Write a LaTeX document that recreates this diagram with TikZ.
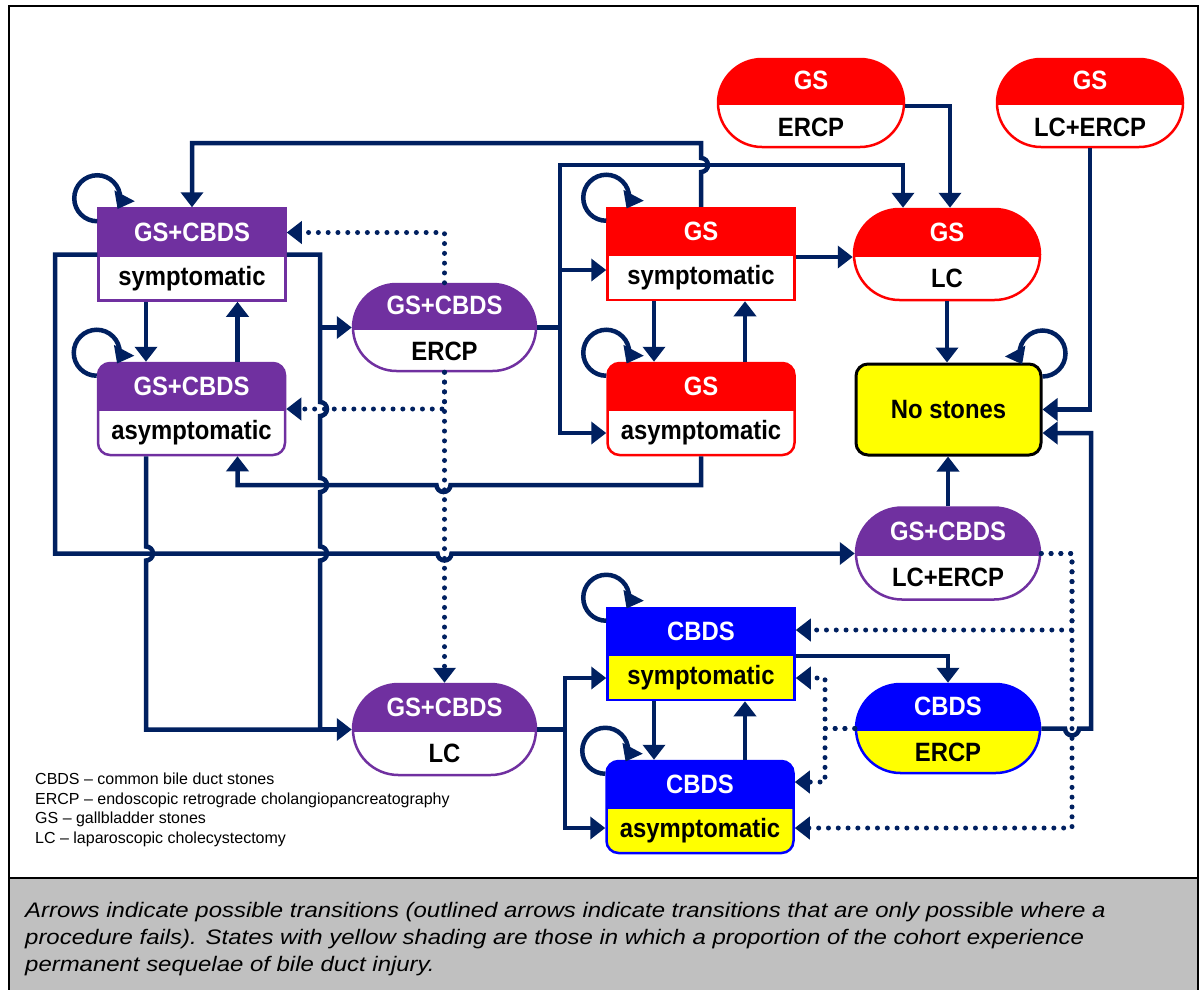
\documentclass[tikz,border=0pt]{standalone}
\usepackage{fontspec}
\setmainfont{Liberation Sans}
\newfontfamily\nodefont[FakeStretch=0.9]{Liberation Sans}
\newfontfamily\capfont[FakeStretch=1.14]{Liberation Sans}
\usetikzlibrary{arrows.meta,shapes.misc}
\definecolor{navyc}{HTML}{002060}
\definecolor{purp}{HTML}{7030A0}
\definecolor{redc}{HTML}{FF0000}
\definecolor{bluec}{HTML}{0000FF}
\definecolor{yel}{HTML}{FFFF00}
\definecolor{capg}{HTML}{C0C0C0}
\tikzset{
  nbase/.style={line width=2.5pt, inner sep=0pt, minimum width=187pt, minimum height=92pt},
  sq/.style={nbase, rectangle},
  rr/.style={nbase, rectangle, rounded corners=12pt},
  st/.style={nbase, rounded rectangle},
  hdr/.style={path picture={\fill[#1, sharp corners] ([xshift=-8pt,yshift=8pt]path picture bounding box.north west) rectangle ([xshift=8pt,yshift=-2pt]path picture bounding box.east);}},
  htxt/.style={text=white, font=\nodefont\bfseries\fontsize{26.5}{28}\selectfont, inner sep=0pt},
  btxt/.style={text=black, font=\nodefont\bfseries\fontsize{26.5}{28}\selectfont, inner sep=0pt},
  legtxt/.style={font=\fontsize{16}{19}\selectfont, inner sep=0pt, anchor=base west},
  captxt/.style={font=\capfont\itshape\fontsize{21}{27}\selectfont, inner sep=0pt, anchor=base west},
  conline/.style={draw=navyc, line width=4.5pt},
  con/.style={conline, -{Triangle[width=22pt,length=15pt]}},
  dotl/.style={draw=navyc, line width=5pt, line cap=round, dash pattern=on 0pt off 9.8pt},
  dotc/.style={dotl, -{Triangle[width=22pt,length=15pt]}},
}
\newcommand{\mkstate}[6]{%
  \node[#2, hdr=#4] (#1) at (#3) {};
  \node[htxt] (#1-h) at ([yshift=22.5pt]#1.center) {#5};
  \node[btxt] (#1-b) at ([yshift=-24pt]#1.center) {#6};
}
\newcommand{\loopL}[1]{\draw[con] ([yshift=-14pt]#1.north west) arc[start angle=90, end angle=388, radius=23];}
\newcommand{\loopR}[1]{\draw[con] ([yshift=-14pt]#1.north east) arc[start angle=90, end angle=-208, radius=23];}
\begin{document}
\begin{tikzpicture}[x=1pt, y=-1pt]
\useasboundingbox (0,0) rectangle (1202,989);
% frame and caption area
\fill[capg] (9,879) rectangle (1198,995);
\draw[line width=2.5pt] (9,6) rectangle (1198,1000);
\draw[line width=2.5pt] (9,878) -- (1198,878);

% states
\mkstate{psym}{sq, draw=purp, fill=white}{192,254.5}{purp}{GS+CBDS}{symptomatic}
\mkstate{pasym}{rr, draw=purp, fill=white}{191.5,409}{purp}{GS+CBDS}{asymptomatic}
\mkstate{pERCP}{st, draw=purp, fill=white, minimum width=183pt, minimum height=87pt}{444.5,327.5}{purp}{GS+CBDS}{ERCP}
\mkstate{gsym}{sq, draw=redc, fill=white}{701,254}{redc}{GS}{symptomatic}
\mkstate{gasym}{rr, draw=redc, fill=white}{701,409}{redc}{GS}{asymptomatic}
\mkstate{gERCP}{st, draw=redc, fill=white, minimum width=186pt, minimum height=88pt}{811,103}{redc}{GS}{ERCP}
\mkstate{gLCERCP}{st, draw=redc, fill=white, minimum width=186pt, minimum height=88pt}{1090,103}{redc}{GS}{LC+ERCP}
\mkstate{gLC}{st, draw=redc, fill=white, minimum width=186pt, minimum height=91pt}{947,254.5}{redc}{GS}{LC}
\mkstate{pLCERCP}{st, draw=purp, fill=white, minimum width=184pt, minimum height=92pt}{948,553.5}{purp}{GS+CBDS}{LC+ERCP}
\mkstate{csym}{sq, draw=bluec, fill=yel}{701,654}{bluec}{CBDS}{symptomatic}
\mkstate{casym}{rr, draw=bluec, fill=yel}{700,807}{bluec}{CBDS}{asymptomatic}
\mkstate{cERCP}{st, draw=bluec, fill=yel, minimum width=184pt, minimum height=89pt}{948,728.5}{bluec}{CBDS}{ERCP}
\mkstate{pLC}{st, draw=purp, fill=white, minimum width=183pt, minimum height=91pt}{444.5,729.5}{purp}{GS+CBDS}{LC}
\node[rr, draw=black, line width=3pt, fill=yel, minimum width=185pt, minimum height=91pt] (nost) at (948.5,409.5) {};
\node[btxt] (nost-t) at (nost.center) {No stones};

% self loops
\loopL{psym}
\loopL{pasym}
\loopL{gsym}
\loopL{gasym}
\loopL{csym}
\loopL{casym}
\loopR{nost}

% GS+CBDS symptomatic <-> asymptomatic
\draw[con] ([xshift=-46pt]psym.south) -- ([xshift=-46pt]psym.south |- pasym.north);
\draw[con] ([xshift=46pt]pasym.north) -- ([xshift=46pt]pasym.north |- psym.south);

% GS symptomatic -> GS+CBDS symptomatic (top route, hop)
\draw[con] (gsym.north) -- (701,172) arc[start angle=90, end angle=-90, radius=7] -- (701,143) -| (psym.north);

% GS+CBDS ERCP fan
\coordinate (jE) at (560,327.5);
\draw[conline] (pERCP.east) -- (jE);
\draw[con] (jE) |- ([yshift=-16pt]gsym.west);
\draw[con] (jE) |- ([yshift=-24pt]gasym.west);
\draw[con] (jE) -- (560,165) -| ([xshift=-44pt]gLC.north);

% GS ERCP -> GS LC
\draw[con] ([yshift=-3pt]gERCP.east) -| ([xshift=3pt]gLC.north);
% GS LC+ERCP -> No stones
\draw[con] (gLCERCP.south) |- (nost.east);
% GS sym -> GS LC
\draw[con] ([yshift=-3pt]gsym.east) -- ([yshift=-3pt]gsym.east -| gLC.west);
% GS LC -> No stones
\draw[con] (gLC.south) -- (gLC.south |- nost.north);
% GS sym <-> asym
\draw[con] ([xshift=-47pt]gsym.south) -- ([xshift=-47pt]gsym.south |- gasym.north);
\draw[con] ([xshift=44pt]gasym.north) -- ([xshift=44pt]gasym.north |- gsym.south);
% GS asym -> GS+CBDS asym
\draw[con] (gasym.south) -- (701,485) -- (450.5,485) arc[start angle=0, end angle=180, radius=7] -| ([xshift=46pt]pasym.south);

% GS+CBDS sym -> GS+CBDS LC+ERCP (left route)
\draw[con] (psym.west) -- (55,254.5) -- (55,553.5) -- (437.5,553.5) arc[start angle=180, end angle=0, radius=7] -- (pLCERCP.west);

% GS+CBDS sym -> ERCP and LC (x=320)
\draw[conline] (psym.east) -- (320,254.5) -- (320,402) arc[start angle=-90, end angle=90, radius=7] -- (320,478) arc[start angle=-90, end angle=90, radius=7] -- (320,546.5) arc[start angle=-90, end angle=90, radius=7] -- (320,729.5);
\draw[con] (320,327.5) -- (pERCP.west);
% GS+CBDS asym -> LC (x=146)
\draw[conline] ([xshift=-45.5pt]pasym.south) -- (146,546.5) arc[start angle=-90, end angle=90, radius=7] -- (146,729.5) -- (320,729.5);
\draw[con] (320,729.5) -- (pLC.west);

% dotted from GS+CBDS ERCP
\draw[dotc] (pERCP.north) |- ([yshift=22pt]psym.east);
\draw[dotc] (pERCP.south) -- (pLC.north);
\draw[dotc] (pERCP.south) |- (pasym.east);

% GS+CBDS LC fan
\coordinate (jC) at (565,729.5);
\draw[conline] (pLC.east) -- (jC);
\draw[con] (jC) |- ([yshift=-24pt]csym.west);
\draw[con] (jC) |- ([yshift=-21pt]casym.west);

% CBDS sym <-> asym
\draw[con] ([xshift=-47pt]csym.south) -- ([xshift=-47pt]csym.south |- casym.north);
\draw[con] ([xshift=45pt]casym.north) -- ([xshift=45pt]casym.north |- csym.south);
% CBDS sym -> CBDS ERCP
\draw[con] ([yshift=-2pt]csym.east) -| (cERCP.north);
% CBDS ERCP -> No stones
\draw[con] (cERCP.east) -- (1065,728.5) arc[start angle=180, end angle=0, radius=7] -- (1091,728.5) -- (1091,433) -- ([yshift=-23.5pt]nost.east);
% GS+CBDS LC+ERCP -> No stones
\draw[con] (pLCERCP.north) -- (pLCERCP.north |- nost.south);

% dotted from GS+CBDS LC+ERCP
\draw[dotc] (pLCERCP.east) -- (1072,553.5) |- ([yshift=-21pt]casym.east);
\draw[dotc] (pLCERCP.east) -- (1072,553.5) |- ([yshift=24pt]csym.east);
% dotted from CBDS ERCP
\draw[dotc] (cERCP.west) -- (825,728.5) |- ([yshift=-24pt]csym.east);
\draw[dotc] (cERCP.west) -- (825,728.5) |- ([yshift=25pt]casym.east);

% legend
\node[legtxt] (leg1) at (35,784) {CBDS – common bile duct stones};
\node[legtxt] (leg2) at (35,804) {ERCP – endoscopic retrograde cholangiopancreatography};
\node[legtxt] (leg3) at (35,823.5) {GS – gallbladder stones};
\node[legtxt] (leg4) at (35,843) {LC – laparoscopic cholecystectomy};

% caption
\node[captxt] (cap1) at (25,917) {Arrows indicate possible transitions (outlined arrows indicate transitions that are only possible where a};
\node[captxt] (cap2) at (25,944) {procedure fails). States with yellow shading are those in which a proportion of the cohort experience};
\node[captxt] (cap3) at (25,971) {permanent sequelae of bile duct injury.};
\end{tikzpicture}
\end{document}
